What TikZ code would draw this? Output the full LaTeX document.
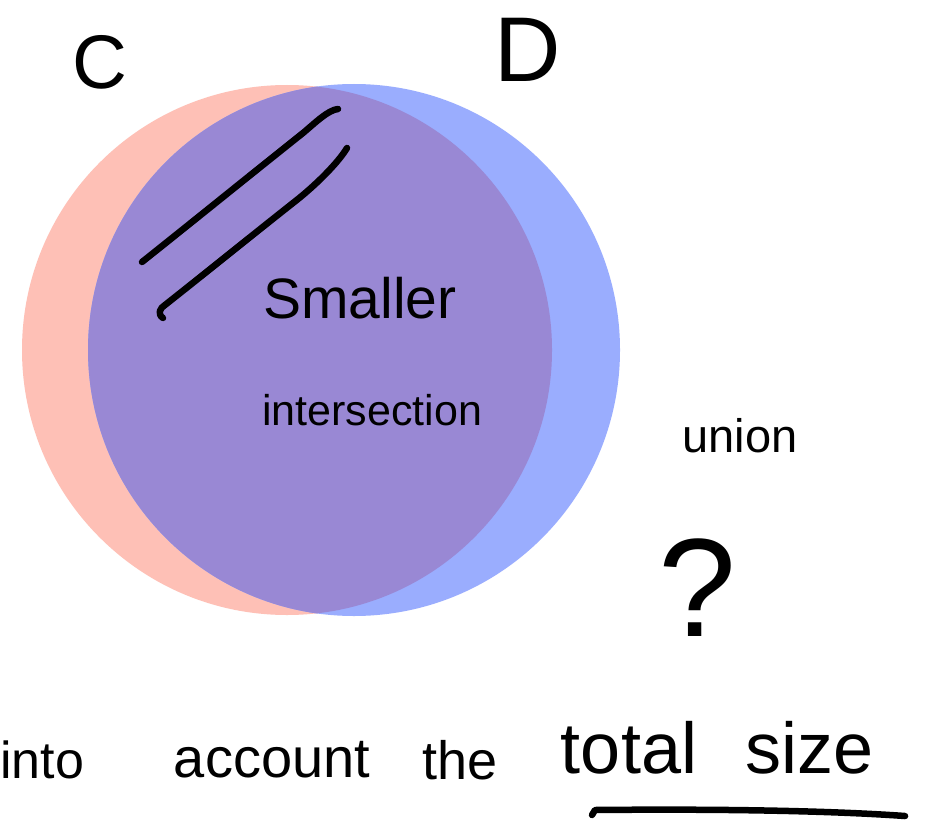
\documentclass[tikz,border=0pt]{standalone}
\usepackage{fontspec}
\setmainfont{Liberation Sans}
\begin{document}
\begin{tikzpicture}[x=1pt,y=-1pt,
  lbl/.style={inner sep=0pt, text=black},
  ink/.style={line width=6.5pt, line cap=round, line join=round, black}]
\useasboundingbox (0,0) rectangle (925,821);
\fill[white] (0,0) rectangle (925,821);
\definecolor{cred}{HTML}{FEC0B6}
\definecolor{cblue}{HTML}{9AADFE}
\definecolor{cboth}{HTML}{9988D4}
% circles
\fill[cred] (287,350) circle (265);
\fill[cblue] (354,350) circle (266);
\begin{scope}
  \clip (287,350) circle (265);
  \fill[cboth] (354,350) circle (266);
\end{scope}
% labels
\node[lbl, font=\fontsize{76}{80}\selectfont] (c) at (100,62) {C};
\node[lbl, font=\fontsize{92}{96}\selectfont] (d) at (528,50) {D};
% hatch strokes
\draw[ink] (142,262) .. controls (196,219) and (249,176) .. (303,133) .. controls (315,123) and (328,110) .. (338,109);
\draw[ink] (163,318) .. controls (157,314) and (160,308) .. (165,305) .. controls (208,271) and (250,237) .. (293,203) .. controls (315,186) and (338,163) .. (347,148);
\node[lbl, font=\fontsize{57}{60}\selectfont] (sm) at (360,298) {Smaller};
\node[lbl, font=\fontsize{43}{46}\selectfont] (inter) at (372,410) {intersection};
\node[lbl, font=\fontsize{47}{50}\selectfont] (un) at (740,436) {union};
\node[lbl, font=\fontsize{140}{144}\selectfont] (q) at (697,588) {?};
% bottom line
\node[lbl, font=\fontsize{52}{56}\selectfont, anchor=west] (into) at (0,760) {into};
\node[lbl, font=\fontsize{56}{60}\selectfont] (acc) at (272,760) {account};
\node[lbl, font=\fontsize{54}{58}\selectfont] (the) at (460,760) {the};
\node[lbl, font=\fontsize{72}{76}\selectfont] (tot) at (629,748) {total};
\node[lbl, font=\fontsize{72}{76}\selectfont] (size) at (810,748) {size};
\coordinate (u1) at (595,810);
\coordinate (u2) at (905,816);
\draw[ink] (592,815) -- (u1) .. controls (700,809) and (820,810) .. (u2);
\end{tikzpicture}
\end{document}
